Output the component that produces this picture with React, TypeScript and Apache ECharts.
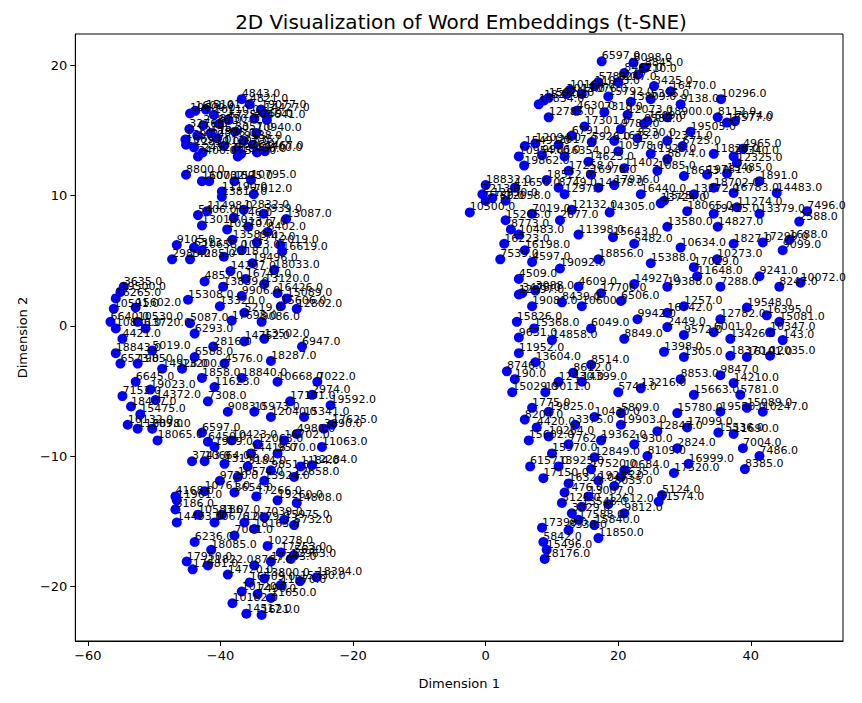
import * as echarts from "echarts";
import { useEffect, useRef } from "react";

// [dim1, dim2, word id]
const leftCluster: [number, number, string][] = [
  [-36.8, 17.4, "4843.0"], [-35.6, 17.0, "4821.0"], [-42.2, 16.6, "15101.0"], [-44.6, 16.3, "10600.0"],
  [-43.8, 16.5, "1601.0"], [-33.9, 16.6, "19077.0"], [-33.4, 16.3, "14427.0"], [-34.9, 15.9, "4269.0"],
  [-33.0, 15.8, "4641.0"], [-44.7, 15.1, "3276.0"], [-42.6, 15.4, "2185.0"], [-40.2, 15.5, "8750.0"],
  [-34.6, 14.8, "10940.0"], [-37.8, 14.9, "3357.0"], [-43.5, 14.6, "12519.0"], [-45.3, 14.3, "1293.0"],
  [-40.5, 14.4, "2896.0"], [-36.5, 14.2, "9388.0"], [-35.1, 13.9, "8357.0"], [-44.0, 13.7, "12830.0"],
  [-39.5, 13.8, "11207.0"], [-37.6, 13.5, "1526.0"], [-45.2, 13.9, "10695.0"], [-42.7, 13.3, "2452.0"],
  [-34.5, 13.3, "19700.0"], [-33.3, 13.4, "1467.0"], [-36.9, 13.2, "18436.0"], [-41.0, 16.2, "10110.0"],
  [-37.4, 13.0, "7523.0"], [-43.4, 13.0, "2400.0"], [-38.8, 15.8, "5725.0"], [-41.5, 14.8, "1957.0"],
  [-45.2, 11.6, "8800.0"], [-42.8, 11.1, "16070.0"], [-41.7, 11.1, "10032.0"], [-37.9, 11.1, "1575.0"],
  [-35.4, 11.2, "10795.0"], [-39.8, 10.3, "11190.0"], [-39.8, 9.9, "13817.0"], [-35.0, 10.1, "7012.0"],
  [-43.4, 8.5, "5406.0"], [-42.0, 8.8, "11498.0"], [-30.1, 8.2, "13087.0"], [-36.5, 8.9, "12832.0"],
  [-33.5, 8.6, "5939.0"], [-38.0, 8.3, "1746.0"], [-42.8, 7.7, "13012.0"], [-39.0, 7.4, "10270.0"],
  [-35.8, 7.6, "1377.0"], [-32.9, 7.2, "8402.0"], [-38.2, 6.6, "13589.0"], [-34.5, 6.4, "1742.0"],
  [-46.6, 6.2, "9105.0"], [-44.0, 6.0, "6313.0"], [-31.0, 6.2, "2019.0"], [-36.8, 5.8, "1023.0"],
  [-47.3, 5.1, "2985.0"], [-44.6, 5.1, "14285.0"], [-42.8, 5.8, "10658.0"], [-30.7, 5.7, "16619.0"],
  [-39.5, 5.3, "12218.0"], [-35.2, 4.8, "19496.0"], [-31.9, 4.3, "18033.0"], [-38.5, 4.2, "14207.0"],
  [-42.4, 3.4, "4857.0"], [-39.6, 3.0, "13839.0"], [-33.4, 3.2, "13120.0"], [-36.2, 3.6, "16741.0"],
  [-54.6, 3.0, "3635.0"], [-55.1, 2.6, "19500.0"], [-55.8, 2.1, "16265.0"], [-56.1, 1.3, "10591.0"],
  [-56.6, 0.3, "6640.0"], [-55.8, -0.2, "10836.0"], [-54.8, -1.0, "4421.0"], [-52.8, 1.4, "15602.0"],
  [-52.5, 0.3, "10530.0"], [-51.3, -0.2, "13720.0"], [-44.9, 2.0, "15308.0"], [-40.1, 1.5, "13320.0"],
  [-44.6, 0.2, "5087.0"], [-43.9, -0.6, "6293.0"], [-36.8, 2.3, "9906.0"], [-36.4, 1.0, "5219.0"],
  [-31.4, 2.5, "16426.0"], [-28.5, 1.3, "12802.0"], [-30.9, 1.5, "15606.0"], [-33.8, 0.3, "9086.0"],
  [-30.0, 2.1, "15089.0"], [-38.3, 0.4, "17698.0"],
  [-55.8, -2.1, "18843.0"], [-55.1, -2.9, "6573.0"], [-52.5, -2.9, "19850.0"], [-50.3, -1.9, "5019.0"],
  [-48.8, -3.3, "14928.0"], [-45.8, -3.3, "13200.0"], [-52.8, -4.3, "6645.0"], [-50.6, -4.9, "19023.0"],
  [-54.8, -5.4, "7152.0"], [-53.5, -6.2, "18407.0"], [-52.1, -6.8, "15475.0"], [-54.0, -7.6, "16132.0"],
  [-52.5, -7.9, "11209.0"], [-50.3, -7.9, "6878.0"], [-49.5, -8.8, "18065.0"], [-49.8, -5.7, "14372.0"],
  [-43.9, -2.4, "6588.0"], [-41.1, -1.6, "2816.0"], [-39.4, -2.9, "4576.0"], [-36.4, -1.2, "14752.0"],
  [-33.4, -1.0, "13502.0"], [-27.7, -1.6, "6947.0"], [-32.4, -2.7, "18287.0"], [-42.8, -4.0, "1858.0"],
  [-40.9, -4.7, "11623.0"], [-36.8, -4.0, "18840.0"], [-31.4, -4.3, "10668.0"], [-25.4, -4.3, "7022.0"],
  [-26.2, -5.3, "2974.0"], [-41.9, -5.8, "7308.0"], [-38.9, -6.6, "9083.0"], [-34.9, -6.6, "15973.0"],
  [-32.4, -7.0, "12040.0"], [-27.4, -7.0, "15341.0"], [-23.4, -6.1, "19592.0"], [-23.2, -7.6, "17625.0"],
  [-24.4, -7.9, "3890.0"], [-42.8, -8.2, "6597.0"], [-41.9, -8.9, "6450.0"], [-40.9, -9.3, "1909.0"],
  [-38.3, -8.8, "10423.0"], [-34.4, -9.1, "12063.0"], [-30.4, -8.8, "16702.0"], [-28.5, -8.3, "4980.0"],
  [-24.7, -9.3, "11063.0"], [-31.4, -9.8, "9570.0"], [-35.4, -9.8, "14418.0"], [-29.5, -5.8, "17101.0"],
  [-44.3, -10.4, "3743.0"], [-42.4, -10.4, "10664.0"], [-39.4, -10.6, "13158.0"], [-35.9, -10.8, "3184.0"],
  [-32.4, -11.1, "9851.0"], [-27.9, -10.8, "1184.0"], [-26.2, -10.7, "12284.0"], [-40.1, -11.9, "9720.0"],
  [-37.4, -11.6, "16574.0"], [-33.4, -11.9, "13924.0"], [-28.9, -11.6, "12658.0"], [-46.8, -13.1, "4168.0"],
  [-46.6, -13.4, "11961.0"], [-42.4, -12.7, "10761.0"], [-37.9, -12.8, "3654.0"], [-34.6, -13.1, "17266.0"],
  [-31.4, -13.4, "19260.0"], [-28.5, -13.6, "14808.0"], [-46.8, -14.1, "3186.0"], [-43.4, -14.5, "10583.0"],
  [-39.8, -14.5, "1867.0"], [-36.4, -15.1, "12179.0"], [-33.4, -14.7, "7039.0"], [-30.4, -14.9, "15975.0"],
  [-46.6, -15.1, "14493.0"], [-40.9, -15.1, "10676.0"], [-34.9, -15.6, "18163.0"], [-28.9, -15.3, "5732.0"],
  [-43.9, -16.6, "6236.0"], [-41.4, -17.2, "18085.0"], [-37.9, -16.1, "7001.0"], [-32.9, -16.9, "10278.0"],
  [-30.9, -17.4, "17253.0"], [-28.9, -17.6, "5630.0"], [-45.1, -18.1, "17950.0"], [-44.2, -18.7, "17681.0"],
  [-41.9, -18.4, "11822.0"], [-38.9, -19.1, "14720.0"], [-34.9, -18.4, "8767.0"], [-32.4, -18.1, "17283.0"],
  [-29.4, -17.9, "12963.0"], [-25.5, -19.3, "18394.0"], [-35.6, -19.7, "16509.0"], [-33.4, -19.4, "13800.0"],
  [-30.9, -19.9, "11970.0"], [-36.8, -20.4, "10120.0"], [-34.4, -20.6, "7490.0"], [-38.2, -21.3, "10182.0"],
  [-36.1, -22.1, "14517.0"], [-33.8, -22.2, "1621.0"], [-32.4, -20.9, "11650.0"], [-28.0, -19.6, "15730.0"],
];

const rightCluster: [number, number, string][] = [
  [17.5, 20.3, "6597.0"], [22.3, 20.2, "8098.0"], [24.0, 19.8, "8845.0"], [23.0, 19.3, "6710.0"],
  [20.9, 19.4, "8462.0"], [17.0, 18.7, "5789.0"], [20.0, 18.7, "9247.0"], [25.4, 18.4, "3425.0"],
  [27.9, 18.0, "16470.0"], [16.4, 18.4, "11043.0"], [12.7, 18.1, "10164.0"], [12.2, 17.8, "3013.0"],
  [14.5, 17.8, "17076.0"], [9.5, 17.5, "15920.0"], [8.0, 17.0, "14834.0"], [8.8, 17.3, "18230.0"],
  [18.5, 17.6, "15792.0"], [21.9, 17.2, "13809.0"], [24.9, 17.4, "5395.0"], [29.4, 17.0, "9138.0"],
  [35.5, 17.4, "10296.0"], [13.7, 16.5, "4630.0"], [9.5, 16.0, "12785.0"], [17.9, 16.4, "7318.0"],
  [21.4, 16.2, "12073.0"], [24.4, 15.7, "7609.0"], [27.4, 16.0, "18900.0"], [35.0, 16.0, "8112.0"],
  [36.4, 15.6, "16577.0"], [37.6, 15.7, "7074.0"], [14.9, 15.3, "17301.0"], [20.4, 15.1, "9781.0"],
  [23.9, 15.5, "8582.0"], [30.9, 14.9, "19505.0"], [13.0, 14.6, "6791.0"], [5.9, 13.8, "15491.0"],
  [7.5, 14.0, "12094.0"], [11.0, 13.9, "2017.0"], [16.0, 14.1, "5926.0"], [19.4, 14.2, "11635.0"],
  [22.9, 14.4, "8230.0"], [27.4, 14.2, "12311.0"], [29.7, 13.8, "6725.0"], [5.0, 13.0, "10954.0"],
  [5.8, 12.3, "19862.0"], [8.5, 13.1, "9986.0"], [11.9, 13.0, "16354.0"], [15.5, 12.6, "14623.0"],
  [20.0, 13.4, "10978.0"], [24.9, 13.2, "11928.0"], [27.4, 12.8, "8874.0"], [34.4, 13.2, "11820.0"],
  [37.4, 13.0, "19340.0"], [38.8, 13.6, "4965.0"], [37.9, 12.5, "12325.0"], [9.2, 11.2, "18522.0"],
  [12.5, 11.9, "17258.0"], [15.9, 11.6, "16978.0"], [20.9, 12.1, "11402.0"], [25.9, 11.9, "1085.0"],
  [29.9, 11.5, "18653.0"], [33.4, 11.6, "19781.0"], [36.4, 11.7, "13485.0"], [41.3, 11.1, "1891.0"],
  [0.0, 10.8, "18832.0"], [-0.5, 10.1, "2213.0"], [1.0, 9.8, "12950.0"], [0.0, 9.6, "9780.0"],
  [4.4, 10.6, "11656.0"], [3.0, 9.6, "12058.0"], [11.0, 10.6, "8749.0"], [11.9, 10.1, "1297.0"],
  [17.0, 10.6, "14878.0"], [19.4, 10.8, "17936.0"], [23.4, 10.1, "16440.0"], [26.9, 9.6, "15250.0"],
  [31.4, 10.1, "13272.0"], [34.4, 10.6, "18702.0"], [37.4, 10.2, "16783.0"], [43.9, 10.2, "14483.0"],
  [-2.4, 8.7, "10500.0"], [3.0, 8.1, "15265.0"], [3.8, 7.4, "8773.0"], [7.0, 8.6, "7019.0"],
  [11.2, 8.1, "2677.0"], [13.0, 8.9, "12132.0"], [18.7, 8.7, "14305.0"], [26.4, 9.4, "13724.0"],
  [30.4, 8.8, "18065.0"], [34.4, 8.6, "19415.0"], [37.9, 9.1, "11274.0"], [41.3, 8.6, "13379.0"],
  [47.3, 8.0, "2588.0"], [48.5, 8.8, "7496.0"], [2.2, 5.1, "7539.0"], [2.8, 6.3, "16223.0"],
  [5.0, 7.0, "10483.0"], [5.9, 5.8, "16198.0"], [7.0, 4.9, "4597.0"], [11.2, 4.4, "19092.0"],
  [14.0, 7.0, "11398.0"], [19.2, 6.8, "15643.0"], [22.4, 6.3, "5482.0"], [27.4, 7.6, "13580.0"],
  [29.4, 6.0, "10634.0"], [35.0, 7.6, "14827.0"], [37.4, 6.3, "1827.0"], [41.8, 6.4, "17299.0"],
  [45.8, 6.6, "1688.0"], [44.8, 5.8, "9099.0"], [17.0, 5.1, "18856.0"], [24.9, 4.8, "15388.0"],
  [31.4, 4.5, "17029.0"], [34.9, 5.1, "10273.0"], [5.0, 3.6, "4509.0"], [7.5, 2.7, "3088.0"],
  [5.5, 2.5, "3475.0"], [14.0, 3.0, "4609.0"], [17.4, 2.5, "17706.0"], [22.4, 3.2, "14927.0"],
  [27.4, 3.0, "19388.0"], [31.9, 3.8, "11648.0"], [35.4, 3.0, "7288.0"], [41.3, 3.8, "9241.0"],
  [44.3, 3.0, "8247.0"], [47.5, 3.3, "10072.0"], [5.0, 2.4, "12897.0"], [7.0, 1.5, "19081.0"],
  [11.5, 1.8, "8439.0"], [14.5, 1.5, "10600.0"], [20.4, 1.9, "6506.0"], [22.9, 0.5, "9942.0"],
  [27.4, 1.0, "16742.0"], [29.9, 1.5, "1257.0"], [35.4, 0.5, "12782.0"], [39.4, 1.4, "19548.0"],
  [42.4, 0.8, "16395.0"], [44.3, 0.3, "15081.0"], [4.7, 0.3, "15826.0"], [7.3, -0.2, "15368.0"],
  [5.0, -0.9, "9631.0"], [10.0, -1.1, "14858.0"], [15.9, -0.2, "6049.0"], [20.9, -1.0, "8849.0"],
  [27.4, -0.1, "2449.0"], [29.9, -0.7, "9572.0"], [34.4, -0.5, "6001.0"], [36.9, -1.0, "13426.0"],
  [42.9, -0.5, "10347.0"], [44.8, -1.1, "143.0"], [5.0, -2.1, "11952.0"], [7.5, -2.8, "13604.0"],
  [13.2, -3.6, "8612.0"], [15.9, -3.0, "8514.0"], [26.9, -2.0, "1398.0"], [29.9, -2.4, "1305.0"],
  [36.9, -2.3, "18370.0"], [39.4, -2.4, "16101.0"], [42.9, -2.3, "12035.0"], [3.2, -3.5, "8746.0"],
  [4.4, -4.1, "190.0"], [11.0, -4.3, "12430.0"], [14.5, -4.3, "14399.0"], [29.4, -4.1, "8853.0"],
  [35.4, -3.8, "9847.0"], [37.4, -4.4, "14210.0"], [4.0, -5.1, "15029.0"], [9.0, -5.1, "19011.0"],
  [20.0, -5.1, "5744.0"], [23.4, -4.8, "13216.0"], [31.4, -5.3, "15663.0"], [38.4, -5.3, "5781.0"],
  [7.0, -6.3, "1775.0"], [9.5, -6.6, "19825.0"], [16.4, -7.0, "10430.0"], [20.4, -6.7, "5809.0"],
  [28.9, -6.7, "15780.0"], [35.4, -6.6, "19550.0"], [39.4, -6.3, "15089.0"], [41.8, -6.6, "10247.0"],
  [5.9, -7.2, "8204.0"], [7.7, -7.8, "4420.0"], [13.5, -7.6, "3375.0"], [20.4, -7.6, "19903.0"],
  [25.9, -8.1, "12847.0"], [30.4, -7.8, "17099.0"], [35.1, -8.2, "15536.0"], [37.4, -8.3, "11690.0"],
  [6.5, -8.8, "15602.0"], [9.5, -8.5, "10264.0"], [12.5, -9.1, "7762.0"], [17.4, -8.8, "19362.0"],
  [22.4, -9.1, "1930.0"], [28.9, -9.4, "2824.0"], [38.8, -9.4, "7004.0"], [41.3, -10.0, "7486.0"],
  [39.1, -11.0, "8385.0"], [10.0, -9.8, "15970.0"], [16.4, -10.1, "12849.0"], [24.4, -10.0, "8109.0"],
  [30.6, -10.6, "16999.0"], [6.7, -10.8, "6157.0"], [11.0, -10.8, "13925.0"], [15.9, -11.0, "17520.0"],
  [20.9, -11.1, "10684.0"], [28.4, -11.3, "17520.0"], [8.7, -11.7, "17150.0"], [12.5, -12.1, "16320.0"],
  [17.0, -11.9, "19235.0"], [20.4, -11.6, "4635.0"], [11.9, -12.8, "7476.0"], [15.5, -13.1, "13007.0"],
  [19.4, -12.3, "8035.0"], [26.1, -13.5, "11574.0"], [26.6, -13.0, "5124.0"], [11.5, -13.6, "3125.0"],
  [14.5, -13.9, "13548.0"], [18.5, -13.7, "12612.0"], [20.9, -14.4, "9812.0"], [13.0, -14.4, "3029.0"],
  [14.0, -14.9, "17588.0"], [8.5, -15.5, "17398.0"], [12.5, -15.7, "8338.0"], [16.4, -15.3, "15840.0"],
  [17.0, -16.3, "11850.0"], [8.7, -16.6, "5842.0"], [8.9, -17.9, "18176.0"], [9.2, -17.2, "15496.0"],
];

const xTicks = [-60, -40, -20, 0, 20, 40];
const yTicks = [-20, -10, 0, 10, 20];

export default function App() {
  const ref = useRef<HTMLDivElement | null>(null);

  useEffect(() => {
    const el = ref.current;
    if (!el) return;
    const chart = echarts.init(el, undefined, { renderer: "svg" });
    const font = "DejaVu Sans, sans-serif";
    const data = [...leftCluster, ...rightCluster].map(([x, y, id]) => ({ value: [x, y], name: id }));
    const tickFmt = (v: number) => String(v).replace("-", "\u2212");

    chart.setOption({
      animation: false,
      title: {
        text: "2D Visualization of Word Embeddings (t-SNE)",
        left: 448,
        top: -1,
        textAlign: "center",
        textStyle: { fontFamily: font, fontSize: 20, fontWeight: "normal", color: "#000" },
      },
      grid: { left: 61, right: 11, top: 26, bottom: 45, show: true, borderColor: "#000", borderWidth: 1, backgroundColor: "transparent" },
      xAxis: {
        type: "value",
        min: -61.9,
        max: 53.9,
        name: "Dimension 1",
        nameLocation: "middle",
        nameGap: 36,
        nameTextStyle: { fontFamily: font, fontSize: 13, color: "#000" },
        axisLine: { onZero: false, lineStyle: { color: "#000", width: 1 } },
        axisTick: { length: 5, lineStyle: { color: "#000" }, customValues: xTicks },
        axisLabel: { fontFamily: font, fontSize: 13, color: "#000", customValues: xTicks, formatter: tickFmt },
        splitLine: { show: false },
      },
      yAxis: {
        type: "value",
        min: -24.2,
        max: 22.4,
        name: "Dimension 2",
        nameLocation: "middle",
        nameGap: 42,
        nameTextStyle: { fontFamily: font, fontSize: 13, color: "#000" },
        axisLine: { onZero: false, lineStyle: { color: "#000", width: 1 } },
        axisTick: { length: 5, lineStyle: { color: "#000" }, customValues: yTicks },
        axisLabel: { fontFamily: font, fontSize: 13, color: "#000", customValues: yTicks, formatter: tickFmt },
        splitLine: { show: false },
      },
      series: [
        {
          type: "scatter",
          data,
          symbolSize: 10,
          itemStyle: { color: "#0000ff", opacity: 1 },
          label: {
            show: true,
            position: [5, 5],
            align: "left",
            verticalAlign: "bottom",
            formatter: (p: { name: string }) => p.name,
            fontFamily: font,
            fontSize: 11,
            color: "#000",
          },
          labelLayout: { hideOverlap: false },
        },
      ],
    });

    return () => chart.dispose();
  }, []);

  return <div ref={ref} style={{ width: 846, height: 687 }} />;
}
